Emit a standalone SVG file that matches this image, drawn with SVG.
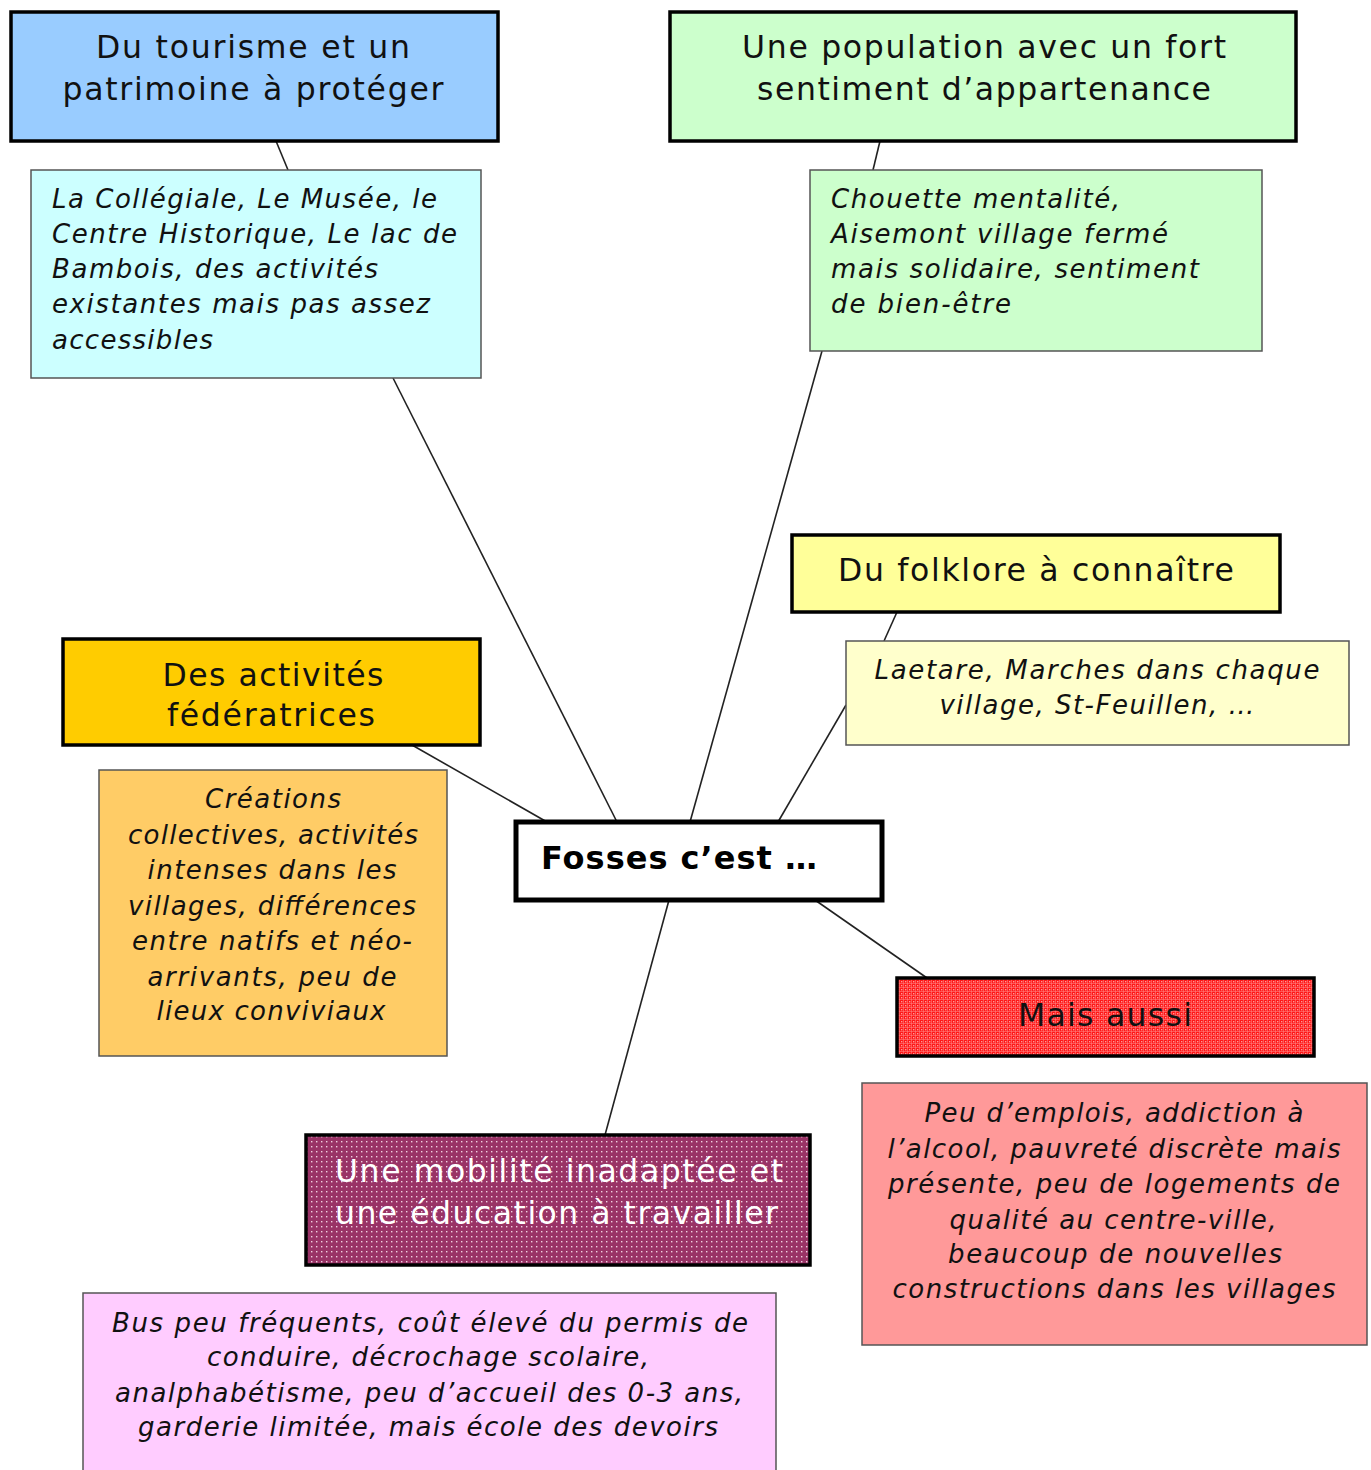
<svg xmlns="http://www.w3.org/2000/svg" width="1371" height="1470" viewBox="0 0 1371 1470">
  <defs>
    <pattern id="crossRed" width="4" height="4" patternUnits="userSpaceOnUse">
      <rect width="4" height="4" fill="#ff1818"/>
      <path d="M0 3.5H4M3.5 0V4" stroke="#ff8080" stroke-width="0.6"/>
      <rect x="1.2" y="1.2" width="1.1" height="1.1" fill="#ffe0e0"/>
    </pattern>
    <pattern id="dotPurple" width="5" height="5" patternUnits="userSpaceOnUse">
      <rect width="5" height="5" fill="#993366"/>
      <rect x="1" y="1" width="1.4" height="1.4" fill="#f0d0e0"/>
    </pattern>
  </defs>
  <style>
    .head { stroke: #000; stroke-width: 3.5; }
    .note { stroke: #555; stroke-width: 1.5; }
    .t { font-family: "DejaVu Sans", Verdana, sans-serif; font-size: 31.5px; fill: #111; }
    .i { font-family: "DejaVu Sans", Verdana, sans-serif; font-size: 26px; font-style: italic; fill: #111; }
    .c { text-anchor: middle; }
    .w { fill: #fff; }
    .links line { stroke: #222; stroke-width: 1.6; }
  </style>

  <g class="links">
    <line x1="276" y1="141" x2="288" y2="170"/>
    <line x1="393" y1="378" x2="617" y2="822"/>
    <line x1="880" y1="141" x2="873" y2="170"/>
    <line x1="822" y1="351" x2="690" y2="822"/>
    <line x1="897" y1="612" x2="884" y2="641"/>
    <line x1="846" y1="705" x2="778" y2="822"/>
    <line x1="412" y1="745" x2="547" y2="822"/>
    <line x1="669" y1="900" x2="605" y2="1135"/>
    <line x1="815" y1="900" x2="927" y2="978"/>
  </g>

  <g id="tourisme">
    <rect class="head" x="11" y="12" width="487" height="129" fill="#99ccff"/>
    <text class="t c" x="253" y="58" textLength="314" lengthAdjust="spacing">Du tourisme et un</text>
    <text class="t c" x="253" y="100" textLength="381" lengthAdjust="spacing">patrimoine à protéger</text>
  </g>
  <g id="tourisme-detail">
    <rect class="note" x="31" y="170" width="450" height="208" fill="#ccffff"/>
    <text class="i" x="52" y="208" textLength="385" lengthAdjust="spacing">La Collégiale, Le Musée, le</text>
    <text class="i" x="52" y="243" textLength="405" lengthAdjust="spacing">Centre Historique, Le lac de</text>
    <text class="i" x="52" y="278" textLength="326" lengthAdjust="spacing">Bambois, des activités</text>
    <text class="i" x="52" y="313" textLength="378" lengthAdjust="spacing">existantes mais pas assez</text>
    <text class="i" x="52" y="349" textLength="161" lengthAdjust="spacing">accessibles</text>
  </g>

  <g id="population">
    <rect class="head" x="670" y="12" width="626" height="129" fill="#ccffcc"/>
    <text class="t c" x="984" y="58" textLength="484" lengthAdjust="spacing">Une population avec un fort</text>
    <text class="t c" x="984" y="100" textLength="454" lengthAdjust="spacing">sentiment d’appartenance</text>
  </g>
  <g id="population-detail">
    <rect class="note" x="810" y="170" width="452" height="181" fill="#ccffcc"/>
    <text class="i" x="831" y="208" textLength="289" lengthAdjust="spacing">Chouette mentalité,</text>
    <text class="i" x="831" y="243" textLength="337" lengthAdjust="spacing">Aisemont village fermé</text>
    <text class="i" x="831" y="278" textLength="368" lengthAdjust="spacing">mais solidaire, sentiment</text>
    <text class="i" x="831" y="313" textLength="180" lengthAdjust="spacing">de bien-être</text>
  </g>

  <g id="folklore">
    <rect class="head" x="792" y="535" width="488" height="77" fill="#ffff99"/>
    <text class="t c" x="1036" y="581" textLength="396" lengthAdjust="spacing">Du folklore à connaître</text>
  </g>
  <g id="folklore-detail">
    <rect class="note" x="846" y="641" width="503" height="104" fill="#ffffcc"/>
    <text class="i c" x="1097" y="679" textLength="445" lengthAdjust="spacing">Laetare, Marches dans chaque</text>
    <text class="i c" x="1097" y="714" textLength="315" lengthAdjust="spacing">village, St-Feuillen, …</text>
  </g>

  <g id="activites">
    <rect class="head" x="63" y="639" width="417" height="106" fill="#ffcc00"/>
    <text class="t c" x="273" y="686" textLength="221" lengthAdjust="spacing">Des activités</text>
    <text class="t c" x="271" y="726" textLength="208" lengthAdjust="spacing">fédératrices</text>
  </g>
  <g id="activites-detail">
    <rect class="note" x="99" y="770" width="348" height="286" fill="#ffcc66"/>
    <text class="i c" x="273" y="808" textLength="136" lengthAdjust="spacing">Créations</text>
    <text class="i c" x="273" y="844" textLength="290" lengthAdjust="spacing">collectives, activités</text>
    <text class="i c" x="272" y="879" textLength="249" lengthAdjust="spacing">intenses dans les</text>
    <text class="i c" x="272" y="915" textLength="288" lengthAdjust="spacing">villages, différences</text>
    <text class="i c" x="272" y="950" textLength="280" lengthAdjust="spacing">entre natifs et néo-</text>
    <text class="i c" x="272" y="986" textLength="249" lengthAdjust="spacing">arrivants, peu de</text>
    <text class="i c" x="271" y="1020" textLength="229" lengthAdjust="spacing">lieux conviviaux</text>
  </g>

  <g id="fosses">
    <rect x="516" y="822" width="366" height="78" fill="#fff" stroke="#000" stroke-width="5"/>
    <text x="541" y="869" font-family="'DejaVu Sans', Tahoma, sans-serif" font-size="32" font-weight="bold" fill="#000" textLength="276" lengthAdjust="spacing">Fosses c’est …</text>
  </g>

  <g id="mais-aussi">
    <rect class="head" x="897" y="978" width="417" height="78" fill="url(#crossRed)"/>
    <text class="t c" x="1105" y="1026" textLength="174" lengthAdjust="spacing">Mais aussi</text>
  </g>
  <g id="mais-aussi-detail">
    <rect class="note" x="862" y="1083" width="505" height="262" fill="#ff9999"/>
    <text class="i c" x="1114" y="1122" textLength="379" lengthAdjust="spacing">Peu d’emplois, addiction à</text>
    <text class="i c" x="1114" y="1158" textLength="453" lengthAdjust="spacing">l’alcool, pauvreté discrète mais</text>
    <text class="i c" x="1114" y="1193" textLength="452" lengthAdjust="spacing">présente, peu de logements de</text>
    <text class="i c" x="1113" y="1229" textLength="327" lengthAdjust="spacing">qualité au centre-ville,</text>
    <text class="i c" x="1115" y="1263" textLength="334" lengthAdjust="spacing">beaucoup de nouvelles</text>
    <text class="i c" x="1114" y="1298" textLength="443" lengthAdjust="spacing">constructions dans les villages</text>
  </g>

  <g id="mobilite">
    <rect class="head" x="306" y="1135" width="504" height="130" fill="url(#dotPurple)"/>
    <text class="t w" x="335" y="1182" textLength="448" lengthAdjust="spacing">Une mobilité inadaptée et</text>
    <text class="t w" x="335" y="1224" textLength="443" lengthAdjust="spacing">une éducation à travailler</text>
  </g>
  <g id="mobilite-detail">
    <rect class="note" x="83" y="1293" width="693" height="185" fill="#ffccff"/>
    <text class="i c" x="430" y="1332" textLength="636" lengthAdjust="spacing">Bus peu fréquents, coût élevé du permis de</text>
    <text class="i c" x="428" y="1366" textLength="442" lengthAdjust="spacing">conduire, décrochage scolaire,</text>
    <text class="i c" x="429" y="1402" textLength="628" lengthAdjust="spacing">analphabétisme, peu d’accueil des 0-3 ans,</text>
    <text class="i c" x="428" y="1436" textLength="580" lengthAdjust="spacing">garderie limitée, mais école des devoirs</text>
  </g>
</svg>
